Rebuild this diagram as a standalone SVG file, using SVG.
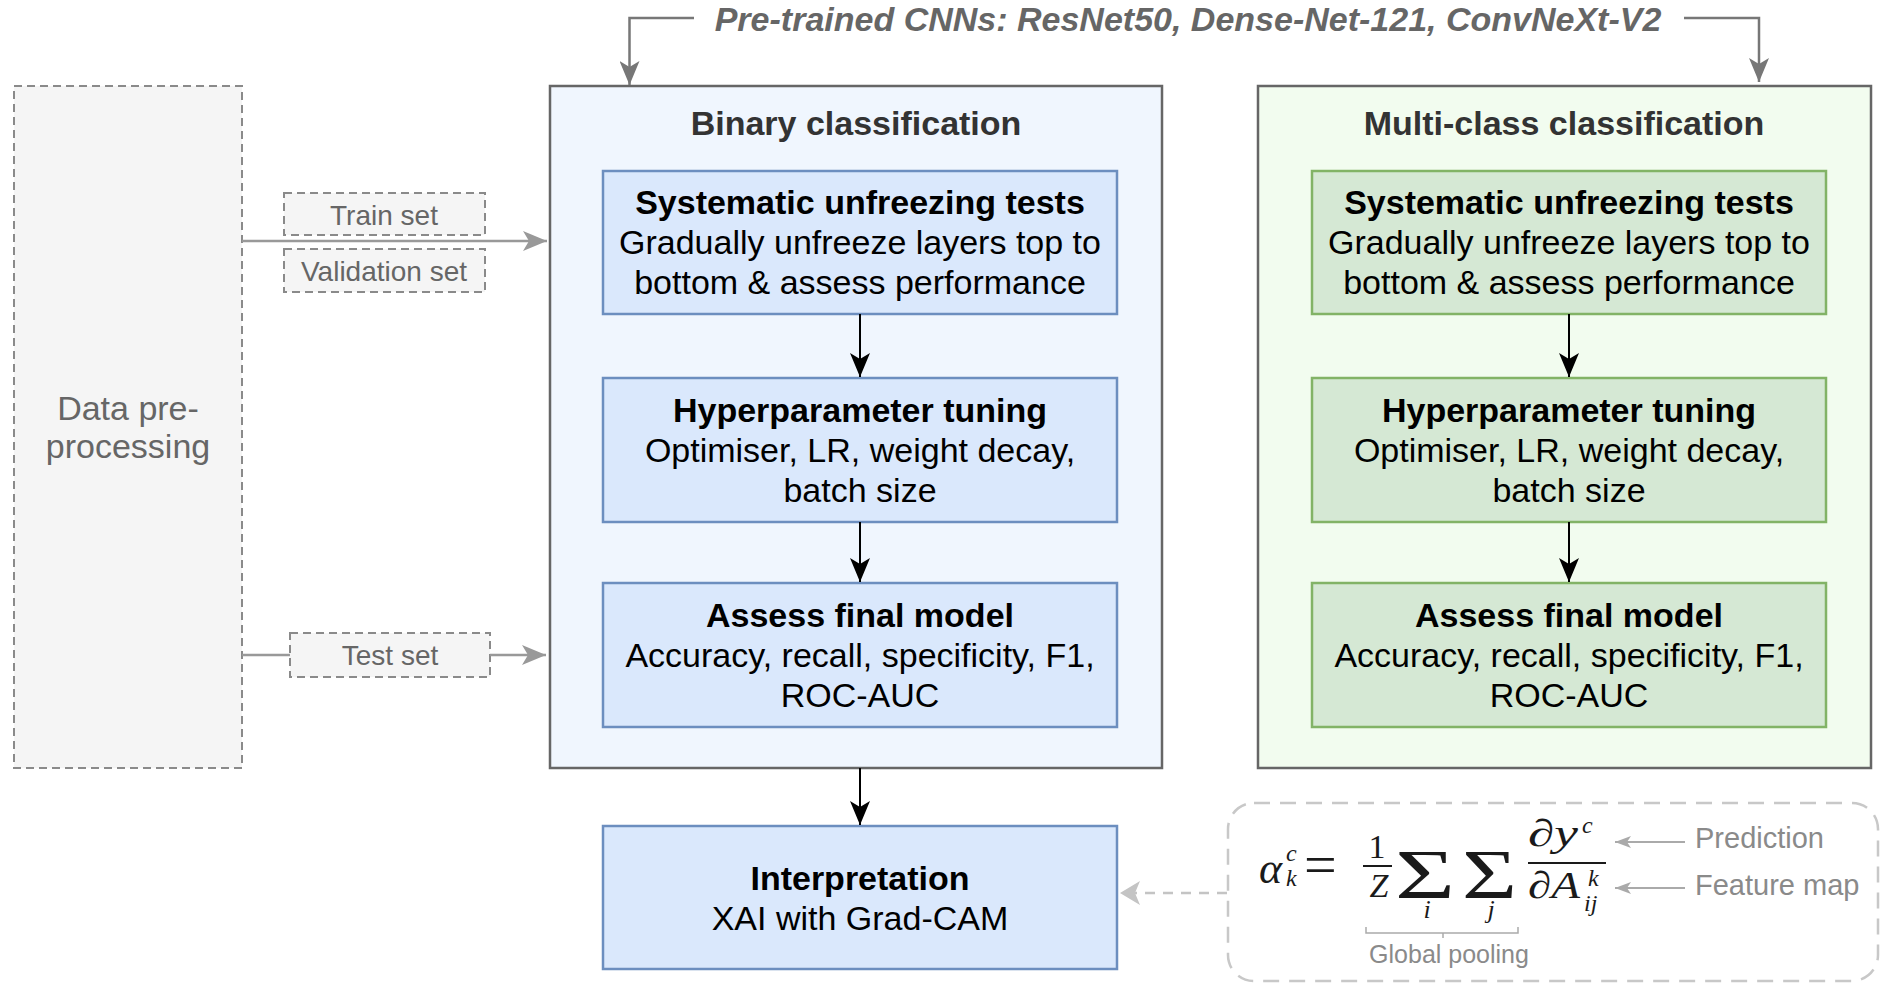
<svg xmlns="http://www.w3.org/2000/svg" width="1890" height="996" viewBox="0 0 1890 996">
<style>
.sans{font-family:"Liberation Sans",Arial,Helvetica,sans-serif}
.b{font-weight:bold}
.t34{font-size:34px}
.ctr{text-anchor:middle}
.blk{fill:#000}
.ttl{fill:#333;font-weight:bold;font-size:34px}
.gtxt{fill:#666}
.cont{stroke:#666;stroke-width:2.5}
.bbox{fill:#dae8fc;stroke:#6c8ebf;stroke-width:2.5}
.gbox{fill:#d5e8d4;stroke:#82b366;stroke-width:2.5}
.dash{fill:#f5f5f5;stroke:#8a8a8a;stroke-width:2;stroke-dasharray:8 5}
.m{font-family:"Liberation Serif","Times New Roman",serif;fill:#1a1a1a}
.it{font-style:italic}
.lbl{font-family:"Liberation Sans",Arial,sans-serif;fill:#8a8a8a}
</style>
<defs>
<marker id="aBlack" markerUnits="userSpaceOnUse" markerWidth="24" markerHeight="20" viewBox="0 0 24 20" refX="24" refY="10" orient="auto"><path d="M0,0 L24,10 L0,20 L6,10 Z" fill="#000"/></marker>
<marker id="aGray" markerUnits="userSpaceOnUse" markerWidth="24" markerHeight="20" viewBox="0 0 24 20" refX="24" refY="10" orient="auto"><path d="M0,0 L24,10 L0,20 L6,10 Z" fill="#777"/></marker>
<marker id="aGray2" markerUnits="userSpaceOnUse" markerWidth="24" markerHeight="20" viewBox="0 0 24 20" refX="24" refY="10" orient="auto"><path d="M0,0 L24,10 L0,20 L6,10 Z" fill="#999"/></marker>
<marker id="aLight" markerUnits="userSpaceOnUse" markerWidth="20" markerHeight="24" viewBox="0 0 20 24" refX="20" refY="12" orient="auto"><path d="M0,0 L20,12 L0,24 L5,12 Z" fill="#c4c4c4"/></marker>
<marker id="aSmall" markerUnits="userSpaceOnUse" markerWidth="16" markerHeight="12" viewBox="0 0 16 12" refX="16" refY="6" orient="auto"><path d="M0,0 L16,6 L0,12 L4,6 Z" fill="#aaa"/></marker>
</defs>

<g id="data-preprocessing">
<rect x="14" y="86" width="228" height="682" class="dash"/>
<text x="128" y="420" class="sans t34 ctr gtxt">Data pre-</text>
<text x="128" y="458" class="sans t34 ctr gtxt">processing</text>
</g>

<g id="train-set">
<rect x="284" y="193" width="201" height="42" class="dash"/>
<text x="384" y="225" class="sans ctr gtxt" font-size="28">Train set</text>
</g>
<g id="validation-set">
<rect x="284" y="249" width="201" height="43" class="dash"/>
<text x="384" y="281" class="sans ctr gtxt" font-size="28">Validation set</text>
</g>
<g id="test-set">
<rect x="290" y="633" width="200" height="44" class="dash"/>
<text x="390" y="665" class="sans ctr gtxt" font-size="28">Test set</text>
</g>

<g id="pretrained-label">
<text x="1188" y="31" class="sans b t34 ctr it" fill="#666">Pre-trained CNNs: ResNet50, Dense-Net-121, ConvNeXt-V2</text>
</g>

<g id="binary-classification">
<rect x="550" y="86" width="612" height="682" fill="#f0f6fe" class="cont"/>
<text x="856" y="135" class="sans ttl ctr">Binary classification</text>
</g>
<g id="binary-unfreeze">
<rect x="603" y="171" width="514" height="143" class="bbox"/>
<text x="860" y="214" class="sans b t34 ctr blk">Systematic unfreezing tests</text>
<text x="860" y="254" class="sans t34 ctr blk">Gradually unfreeze layers top to</text>
<text x="860" y="294" class="sans t34 ctr blk">bottom &amp; assess performance</text>
</g>
<g id="binary-hyper">
<rect x="603" y="378" width="514" height="144" class="bbox"/>
<text x="860" y="422" class="sans b t34 ctr blk">Hyperparameter tuning</text>
<text x="860" y="462" class="sans t34 ctr blk">Optimiser, LR, weight decay,</text>
<text x="860" y="502" class="sans t34 ctr blk">batch size</text>
</g>
<g id="binary-assess">
<rect x="603" y="583" width="514" height="144" class="bbox"/>
<text x="860" y="627" class="sans b t34 ctr blk">Assess final model</text>
<text x="860" y="667" class="sans t34 ctr blk">Accuracy, recall, specificity, F1,</text>
<text x="860" y="707" class="sans t34 ctr blk">ROC-AUC</text>
</g>

<g id="multiclass-classification">
<rect x="1258" y="86" width="613" height="682" fill="#f2fcef" class="cont"/>
<text x="1564" y="135" class="sans ttl ctr">Multi-class classification</text>
</g>
<g id="multi-unfreeze">
<rect x="1312" y="171" width="514" height="143" class="gbox"/>
<text x="1569" y="214" class="sans b t34 ctr blk">Systematic unfreezing tests</text>
<text x="1569" y="254" class="sans t34 ctr blk">Gradually unfreeze layers top to</text>
<text x="1569" y="294" class="sans t34 ctr blk">bottom &amp; assess performance</text>
</g>
<g id="multi-hyper">
<rect x="1312" y="378" width="514" height="144" class="gbox"/>
<text x="1569" y="422" class="sans b t34 ctr blk">Hyperparameter tuning</text>
<text x="1569" y="462" class="sans t34 ctr blk">Optimiser, LR, weight decay,</text>
<text x="1569" y="502" class="sans t34 ctr blk">batch size</text>
</g>
<g id="multi-assess">
<rect x="1312" y="583" width="514" height="144" class="gbox"/>
<text x="1569" y="627" class="sans b t34 ctr blk">Assess final model</text>
<text x="1569" y="667" class="sans t34 ctr blk">Accuracy, recall, specificity, F1,</text>
<text x="1569" y="707" class="sans t34 ctr blk">ROC-AUC</text>
</g>

<g id="interpretation">
<rect x="603" y="826" width="514" height="143" class="bbox"/>
<text x="860" y="890" class="sans b t34 ctr blk">Interpretation</text>
<text x="860" y="930" class="sans t34 ctr blk">XAI with Grad-CAM</text>
</g>

<g id="gradcam-formula">
<rect x="1228" y="803" width="650" height="178" rx="26" ry="26" fill="none" stroke="#c8c8c8" stroke-width="2.5" stroke-dasharray="16 10"/>
<text x="1259" y="883" class="m it" font-size="44">α</text>
<text x="1286" y="861" class="m it" font-size="24">c</text>
<text x="1286" y="886" class="m it" font-size="24">k</text>
<text x="1304" y="884" class="m" font-size="58">=</text>
<text x="1377" y="858" class="m ctr" font-size="34">1</text>
<line x1="1363" y1="866" x2="1392" y2="866" stroke="#1a1a1a" stroke-width="2"/>
<text x="1379" y="897" class="m it ctr" font-size="34">Z</text>
<text x="1395" y="898" class="m" font-size="70" textLength="60" lengthAdjust="spacingAndGlyphs">Σ</text>
<text x="1462" y="898" class="m" font-size="70" textLength="55" lengthAdjust="spacingAndGlyphs">Σ</text>
<text x="1427" y="918" class="m it ctr" font-size="26">i</text>
<text x="1491" y="918" class="m it ctr" font-size="26">j</text>
<text x="1528" y="846" class="m it" font-size="38" textLength="50" lengthAdjust="spacingAndGlyphs">∂y</text>
<text x="1582" y="833" class="m it" font-size="24">c</text>
<line x1="1528" y1="863" x2="1606" y2="863" stroke="#1a1a1a" stroke-width="2"/>
<text x="1528" y="898" class="m it" font-size="38" textLength="52" lengthAdjust="spacingAndGlyphs">∂A</text>
<text x="1588" y="886" class="m it" font-size="24">k</text>
<text x="1584" y="911" class="m it" font-size="24">ij</text>
<line x1="1685" y1="842" x2="1615" y2="842" stroke="#aaa" stroke-width="2" marker-end="url(#aSmall)"/>
<line x1="1685" y1="888" x2="1615" y2="888" stroke="#aaa" stroke-width="2" marker-end="url(#aSmall)"/>
<text x="1695" y="848" class="lbl" font-size="29">Prediction</text>
<text x="1695" y="895" class="lbl" font-size="29">Feature map</text>
<path d="M1366,927 V933 H1518 V927 M1443,933 V938" fill="none" stroke="#aaa" stroke-width="1.5"/>
<text x="1449" y="963" class="lbl ctr" font-size="25">Global pooling</text>
</g>

<g id="connectors" fill="none">
<path d="M694,18 H629.5 V85" stroke="#777" stroke-width="2.5" marker-end="url(#aGray)"/>
<path d="M1684,18 H1759 V82" stroke="#777" stroke-width="2.5" marker-end="url(#aGray)"/>
<path d="M242,241 H547" stroke="#999" stroke-width="2.5" marker-end="url(#aGray2)"/>
<path d="M242,655 H290" stroke="#999" stroke-width="2.5"/>
<path d="M490,655 H546" stroke="#999" stroke-width="2.5" marker-end="url(#aGray2)"/>
<path d="M860,314 V377" stroke="#000" stroke-width="2" marker-end="url(#aBlack)"/>
<path d="M860,522 V582" stroke="#000" stroke-width="2" marker-end="url(#aBlack)"/>
<path d="M860,768 V825" stroke="#000" stroke-width="2" marker-end="url(#aBlack)"/>
<path d="M1569,314 V377" stroke="#000" stroke-width="2" marker-end="url(#aBlack)"/>
<path d="M1569,522 V582" stroke="#000" stroke-width="2" marker-end="url(#aBlack)"/>
<path d="M1227,893 H1120" stroke="#c4c4c4" stroke-width="2.5" stroke-dasharray="10 8" marker-end="url(#aLight)"/>
</g>
</svg>
